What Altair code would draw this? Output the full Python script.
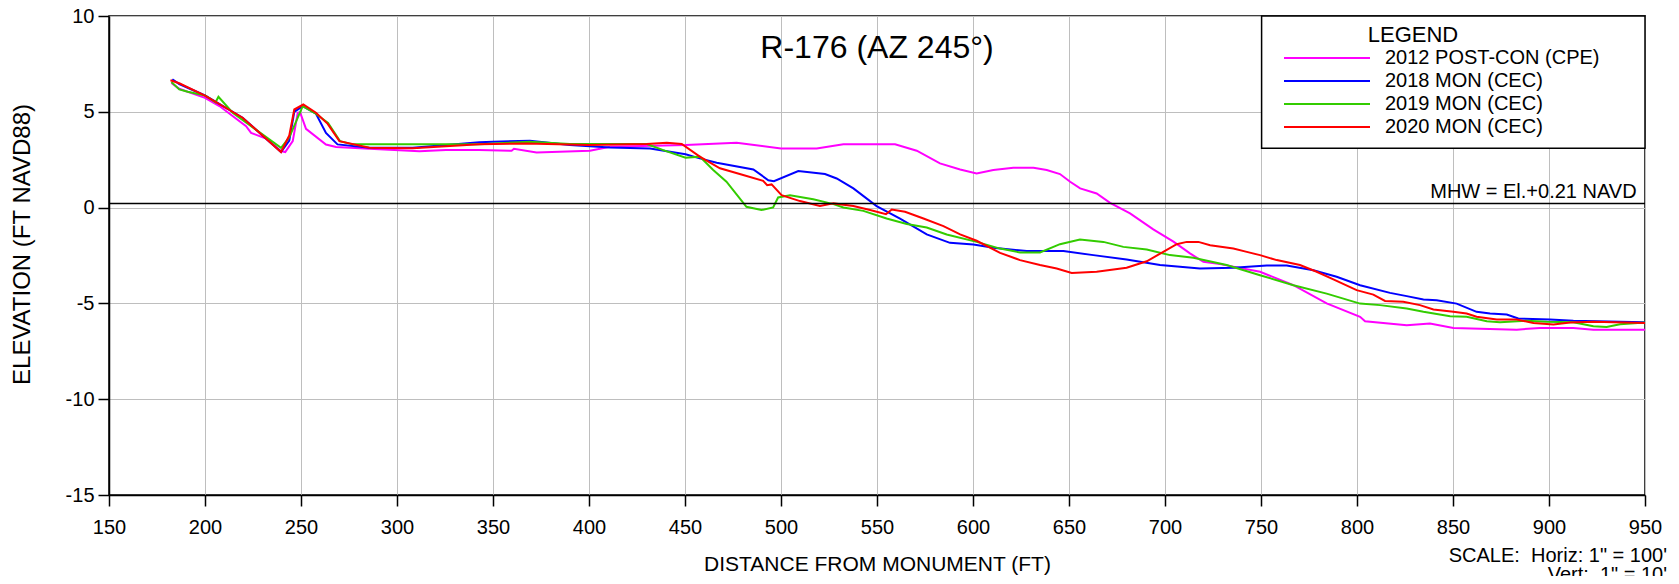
import altair as alt
import pandas as pd

# ---------------- data ----------------
SERIES = ["2012 POST-CON (CPE)", "2018 MON (CEC)", "2019 MON (CEC)", "2020 MON (CEC)"]
COLORS = ["#FF00FF", "#0000FF", "#33CC00", "#FF0000"]

m_x = [182.5, 186.6, 200, 207.5, 221.4, 224, 231.8, 239.6, 241.8, 245.7, 248.3, 249.5, 252.6, 263, 268.3,
       285.6, 311.7, 325.5, 342.9, 359.7, 360.9, 372.7, 400.5, 410.9, 450.3, 476.9, 500, 518.6, 532.5, 559.4,
       570.7, 582.8, 593.3, 601.9, 610.6, 621, 631.5, 638.4, 645.3, 650.6, 655.8, 664.4, 671.4, 681.8, 693.9,
       704.4, 713, 720, 728.7, 749.5, 766.9, 784.2, 801.6, 804.2, 825.9, 838, 850.2, 883.2, 895.3, 912.7,
       923.1, 950]
m_y = [6.5, 6.2, 5.73, 5.3, 4.25, 3.9, 3.6, 2.95, 2.9, 3.47, 4.95, 4.98, 4.11, 3.29, 3.16,
       3.07, 2.94, 3.0, 3.0, 2.97, 3.07, 2.88, 2.97, 3.18, 3.27, 3.39, 3.09, 3.09, 3.3, 3.3,
       2.97, 2.31, 1.99, 1.78, 1.96, 2.08, 2.08, 1.96, 1.75, 1.35, 1.0, 0.74, 0.25, -0.30, -1.14,
       -1.78, -2.39, -2.83, -2.95, -3.35, -4.05, -5.0, -5.7, -5.93, -6.14, -6.05, -6.28, -6.37, -6.28, -6.28,
       -6.37, -6.37]

b_x = [183, 186.6, 200, 219.6, 239.6, 243.9, 246.5, 250.9, 257.8, 263, 269, 285.6, 308.2, 342.9, 350,
       369.2, 390, 410.9, 431.8, 450.3, 457.7, 466.5, 485.6, 493.4, 496.3, 509, 522.9, 529, 537.7, 549.8,
       562, 575.9, 588, 600.2, 610.6, 628, 647.1, 662.7, 680, 697.4, 718.2, 735.6, 753, 763.4, 777.3,
       789.4, 801.6, 817.2, 825.9, 834.6, 841.5, 851.9, 862.3, 869.3, 878, 884, 900.5, 912.7, 937, 950]
b_y = [6.7, 6.45, 5.85, 4.69, 2.9, 3.5, 5.0, 5.3, 4.9, 3.9, 3.3, 3.12, 3.12, 3.41, 3.44,
       3.49, 3.27, 3.14, 3.09, 2.78, 2.57, 2.34, 1.99, 1.43, 1.38, 1.91, 1.75, 1.52, 1.0, 0.08,
       -0.57, -1.4, -1.84, -1.93, -2.1, -2.27, -2.27, -2.48, -2.71, -3.0, -3.18, -3.14, -3.02, -3.02, -3.27,
       -3.61, -4.05, -4.45, -4.62, -4.80, -4.83, -5.01, -5.44, -5.53, -5.58, -5.79, -5.84, -5.91, -5.96, -5.98]

g_x = [182.5, 186.6, 191, 200, 205.5, 207, 214.4, 239.6, 243.9, 250.9, 257, 264.1, 270.3, 276.9, 342.9,
       369.2, 390, 430.1, 438.7, 450.3, 457.7, 464.7, 471.6, 482, 489.8, 495.9, 498.5, 504.7, 516.8, 527.3,
       532.5, 542.9, 555, 565.5, 575.9, 586.3, 601.9, 614.1, 624.5, 634.9, 645.3, 655.7, 667.9, 678.3, 690.5,
       702.6, 714.8, 732.1, 749.5, 766.9, 784.2, 801.6, 812, 825.9, 834.6, 848.5, 857.1, 867.6, 874.5, 888.4,
       898.8, 912.7, 923.1, 930, 937, 950]
g_y = [6.55, 6.17, 6.05, 5.85, 5.5, 5.78, 4.95, 3.12, 3.67, 5.3, 4.95, 4.42, 3.47, 3.3, 3.3,
       3.44, 3.32, 3.32, 3.0, 2.6, 2.66, 1.96, 1.35, 0.04, -0.13, 0.01, 0.53, 0.65, 0.44, 0.18,
       0.01, -0.17, -0.57, -0.86, -1.04, -1.4, -1.79, -2.14, -2.34, -2.34, -1.91, -1.66, -1.79, -2.05, -2.19,
       -2.48, -2.62, -3.0, -3.53, -4.05, -4.49, -5.01, -5.09, -5.27, -5.44, -5.67, -5.70, -5.93, -5.98, -5.91,
       -5.96, -5.98, -6.19, -6.23, -6.09, -6.0]

r_x = [182, 186.6, 200, 219.6, 239.6, 243.9, 246.5, 251.2, 257.8, 263.9, 270, 285.6, 308.2, 325.5, 342.9,
       367.5, 400, 430.1, 440.5, 448.3, 457.7, 468.2, 480.3, 490.7, 492.8, 495.1, 500.3, 509.9, 520.3, 527.3,
       537.7, 546.4, 554.7, 557.7, 564.6, 574.2, 584.6, 593.3, 601.9, 614.1, 624.5, 634.9, 643.6, 651.4, 664.4,
       680, 690.5, 699.1, 706.1, 711.3, 717.4, 723.5, 735.6, 742.6, 749.5, 758.2, 770.3, 779, 787.7, 799.8,
       808.5, 814.6, 824.1, 832.8, 839.8, 850.2, 857.1, 862.3, 872.8, 883.2, 891.9, 902.3, 911, 923.1, 950]
r_y = [6.65, 6.49, 5.85, 4.69, 2.9, 3.76, 5.12, 5.38, 4.95, 4.37, 3.47, 3.12, 3.1, 3.2, 3.3,
       3.35, 3.27, 3.32, 3.39, 3.32, 2.66, 2.05, 1.7, 1.4, 1.17, 1.21, 0.65, 0.34, 0.09, 0.22,
       0.08, -0.13, -0.34, -0.1, -0.22, -0.57, -0.97, -1.4, -1.73, -2.36, -2.74, -3.0, -3.18, -3.41, -3.35,
       -3.14, -2.8, -2.31, -1.91, -1.79, -1.79, -1.96, -2.13, -2.31, -2.48, -2.74, -3.0, -3.35, -3.75, -4.31,
       -4.54, -4.87, -4.92, -5.09, -5.32, -5.44, -5.53, -5.70, -5.84, -5.84, -6.02, -6.1, -6.0, -5.96, -6.02]

X_TICKS = list(range(150, 951, 50))
Y_TICKS = [-15, -10, -5, 0, 5, 10]
MHW = 0.21
TITLE = "R-176 (AZ 245\u00b0)"
MHW_LABEL = "MHW = El.+0.21 NAVD"
NB = "\u00a0"
SCALE_LINES = ["SCALE:" + NB + NB + "Horiz:" + NB + "1\"" + NB + "=" + NB + "100'",
               "Vert:" + NB + NB + "1\"" + NB + "=" + NB + "10'"]

# ---------------- build table ----------------
rows = []
for name, xs, ys in zip(SERIES, [m_x, b_x, g_x, r_x], [m_y, b_y, g_y, r_y]):
    assert len(xs) == len(ys), name
    for i, (x, y) in enumerate(zip(xs, ys)):
        rows.append({"series": name, "dist": x, "elev": y, "i": i})
df = pd.DataFrame(rows)

FONT = "Liberation Sans"
W, H = 1536, 479
HYPHEN_LABEL = "datum.value < 0 ? '-' + abs(datum.value) : '' + datum.value"

lines = alt.Chart(df).mark_line(strokeWidth=2).encode(
    x=alt.X("dist:Q",
            scale=alt.Scale(domain=[150, 950], nice=False, zero=False),
            axis=alt.Axis(values=X_TICKS, title="DISTANCE FROM MONUMENT (FT)",
                          titleY=75, titleBaseline="alphabetic",
                          labelPadding=11, labelFlush=False, labelOverlap=False)),
    y=alt.Y("elev:Q",
            scale=alt.Scale(domain=[-15, 10], nice=False, zero=False),
            axis=alt.Axis(values=Y_TICKS, title="ELEVATION (FT NAVD88)",
                          titleX=-80, titleY=228, titleBaseline="alphabetic",
                          titleFontSize=24, titleAlign="center", labelExpr=HYPHEN_LABEL,
                          labelPadding=4, labelFlush=False, labelOverlap=False)),
    color=alt.Color("series:N",
                    scale=alt.Scale(domain=SERIES, range=COLORS),
                    legend=alt.Legend(title=None, orient="none", legendX=1174, legendY=32,
                                      symbolType="stroke", symbolSize=7396,
                                      symbolStrokeWidth=2, clipHeight=20, rowPadding=3,
                                      labelOffset=14, labelFontSize=20, labelFont=FONT,
                                      labelColor="black", padding=0, symbolOffset=0,
                                      labelLimit=0)),
    order="i:Q",
)

mhw_rule = alt.Chart(pd.DataFrame({"mhw": [MHW]})).mark_rule(
    color="black", strokeWidth=1.5).encode(y=alt.datum(MHW))

legend_box = alt.Chart(pd.DataFrame({"a": [1]})).mark_rect(
    fill="white", stroke="black", strokeWidth=1.5).encode(
    x=alt.value(1152.6), x2=alt.value(W), y=alt.value(0), y2=alt.value(132.3))

legend_title = alt.Chart(pd.DataFrame({"t": ["LEGEND"]})).mark_text(
    font=FONT, fontSize=22, color="black", align="center", baseline="alphabetic").encode(
    text="t:N", x=alt.value(1304), y=alt.value(25.7))

title = alt.Chart(pd.DataFrame({"t": [TITLE]})).mark_text(
    font=FONT, fontSize=32, color="black", align="center", baseline="alphabetic").encode(
    text="t:N", x=alt.value(W / 2), y=alt.value(42))

mhw_text = alt.Chart(pd.DataFrame({"t": [MHW_LABEL]})).mark_text(
    font=FONT, fontSize=20, color="black", align="right", baseline="alphabetic").encode(
    text="t:N", x=alt.value(1527.6), y=alt.value(182.3))

scale1 = alt.Chart(pd.DataFrame({"t": [SCALE_LINES[0]]})).mark_text(
    font=FONT, fontSize=20, color="black", align="right", baseline="alphabetic").encode(
    text="t:N", x=alt.value(1558), y=alt.value(545.7))
scale2 = alt.Chart(pd.DataFrame({"t": [SCALE_LINES[1]]})).mark_text(
    font=FONT, fontSize=20, color="black", align="right", baseline="alphabetic").encode(
    text="t:N", x=alt.value(1558), y=alt.value(565))

chart = alt.layer(
    lines, mhw_rule, legend_box, legend_title, title, mhw_text, scale1, scale2
).properties(
    width=W, height=H,
    autosize=alt.AutoSizeParams(type="none"),
    padding={"left": 101, "top": 8, "right": 26, "bottom": 81},
    background="white",
).configure_view(
    stroke="black", strokeWidth=1.5
).configure_axis(
    labelFont=FONT, titleFont=FONT, labelFontSize=20, titleFontSize=21,
    labelColor="black", titleColor="black", titleFontWeight="normal",
    domainColor="black", domainWidth=1.5, tickColor="black", tickWidth=1.5, tickSize=11,
    gridColor="#BEBEBE", gridWidth=1, grid=True,
)

chart.save("out.html", embed_options={"renderer": "svg", "actions": False})
